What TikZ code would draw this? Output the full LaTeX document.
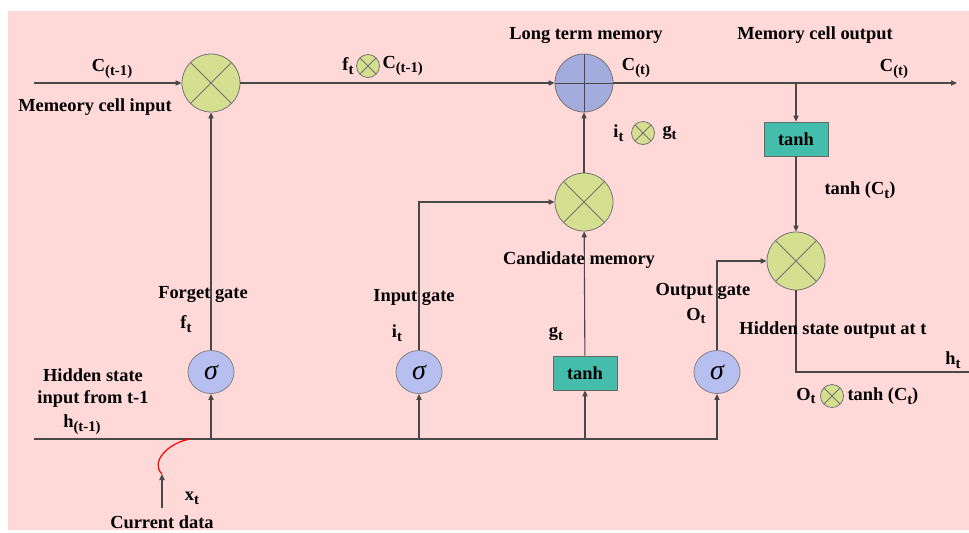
\documentclass[tikz,border=0pt]{standalone}
\usepackage{fontspec}
\setmainfont{Liberation Serif}
\usetikzlibrary{arrows.meta, calc, positioning, shapes.geometric}
\definecolor{bgpink}{RGB}{255,216,216}
\definecolor{mulgreen}{RGB}{212,224,143}
\definecolor{addblue}{RGB}{163,172,220}
\definecolor{sigblue}{RGB}{183,191,240}
\definecolor{tanhteal}{RGB}{69,189,172}
\definecolor{wirecol}{RGB}{72,72,72}
\newcommand{\sbs}[1]{\raisebox{-0.45ex}{\fontsize{7.4}{8}\selectfont #1}}

\begin{document}
\begin{tikzpicture}[font=\fontsize{9.2}{11}\selectfont\bfseries,
    wire/.style={draw=wirecol,line width=0.55pt},
    arr/.style={wire,-{Triangle[length=3pt,width=2.6pt]}},
    mulop/.style={circle,draw=black!55,fill=mulgreen,minimum size=29pt,inner sep=0pt,
        path picture={\draw[black!55] (path picture bounding box.north west)--(path picture bounding box.south east)
            (path picture bounding box.north east)--(path picture bounding box.south west);}},
    mulsmall/.style={mulop,minimum size=11.5pt},
    addop/.style={circle,draw=black!55,fill=addblue,minimum size=29pt,inner sep=0pt,
        path picture={\draw[wirecol] (path picture bounding box.north)--(path picture bounding box.south)
            (path picture bounding box.west)--(path picture bounding box.east);}},
    sigop/.style={ellipse,draw=black!50,fill=sigblue,minimum width=23pt,minimum height=21.5pt,inner sep=0pt,
        font=\fontsize{14}{14}\selectfont\mdseries\itshape},
    tanhbox/.style={rectangle,draw=black!60,fill=tanhteal,minimum width=32pt,minimum height=17pt,inner sep=0pt},
    side/.style={inner sep=0.6pt}]
\begin{scope}[x=0.5pt,y=-0.5pt]
    \useasboundingbox (0,0) rectangle (969,532);
    \fill[bgpink] (8,11) rectangle (969,530);

    %
    \node[mulop] (fmul) at (211,83) {};
    \node[addop] (add) at (584,83) {};
    \node[mulop] (imul) at (584,202) {};
    \node[mulop] (omul) at (796,261) {};
    \node[tanhbox] (tanhc) at (796,139) {tanh};
    \node[tanhbox] (gtanh) at (585,373) {tanh};
    \node[sigop] (fsig) at (211,372) {σ};
    \node[sigop] (isig) at (419,372) {σ};
    \node[sigop] (osig) at (717,372) {σ};

    %
    \coordinate (cin) at (34,83);
    \coordinate (cout) at (957,83);
    \coordinate (cbr) at (796,83);
    \coordinate (hin) at (34,439);
    \coordinate (hout) at (969,372);
    \coordinate (fjn) at (211,439);
    \coordinate (ijn) at (419,439);
    \coordinate (gjn) at (585,439);
    \coordinate (xjn) at (190,439);
    \coordinate (xend) at (162,474);
    \coordinate (xsrc) at (162,508);

    %
    \draw[arr] (cin) -- (fmul);
    \draw[arr] (fmul) -- (add);
    \draw[arr] (add) -- (cout);
    \draw[arr] (cbr) -- (tanhc);
    \draw[arr] (tanhc) -- (omul);
    \draw[wire] (omul) |- (hout);
    \draw[arr] (hin) -| (osig);
    \draw[arr] (fjn) -- (fsig);
    \draw[arr] (ijn) -- (isig);
    \draw[arr] (gjn) -- (gtanh);
    \draw[arr] (fsig) -- (fmul);
    \draw[arr] (isig) |- (imul);
    \draw[arr] (gtanh) -- (imul);
    \draw[arr] (imul) -- (add);
    \draw[arr] (osig) |- (omul);
    \draw[red,line width=0.6pt] (xjn) .. controls (168,443) and (150,462) .. (xend);
    \draw[arr] (xsrc) -- (xend);

    %
    \node (lcin) at (112,69) {C\sbs{(t-1)}};
    \node (lmci) at (95,107) {Memeory cell input};
    \node[mulsmall] (fcsym) at (368,66) {};
    \node[side,left=0.5pt of fcsym] (fcf) {f\sbs{t}};
    \node[side,right=0.5pt of fcsym] (fcc) {C\sbs{(t-1)}};
    \node (lltm) at (586,35) {Long term memory};
    \node (lct) at (636,68) {C\sbs{(t)}};
    \node (lmco) at (815,35) {Memory cell output};
    \node (lcto) at (894,69) {C\sbs{(t)}};
    \node[mulsmall] (igsym) at (643,133) {};
    \node[side,left=3pt of igsym] (igi) {i\sbs{t}};
    \node[side,right=3pt of igsym] (igg) {g\sbs{t}};
    \node (ltct) at (860,190) {tanh (C\sbs{t})};
    \node (lcand) at (579,260) {Candidate memory};
    \node (lfg) at (203,294) {Forget gate};
    \node (lft) at (186,324) {f\sbs{t}};
    \node (lig) at (414,297) {Input gate};
    \node (lit) at (397,333) {i\sbs{t}};
    \node (lgt) at (556,334) {g\sbs{t}};
    \node (log) at (703,291) {Output gate};
    \node (lot) at (696,316) {O\sbs{t}};
    \node (lhso) at (833,330) {Hidden state output at t};
    \node (lht) at (953,360) {h\sbs{t}};
    \node[mulsmall] (ohsym) at (832,396) {};
    \node[side,left=1.5pt of ohsym] (oho) {O\sbs{t}};
    \node[side,right=1pt of ohsym] (oht) {tanh (C\sbs{t})};
    \node[align=center] (lhin) at (93,388) {Hidden state\\input from t-1};
    \node (lhtm) at (82,425) {h\sbs{(t-1)}};
    \node (lxt) at (192,498) {x\sbs{t}};
    \node (lcur) at (162,522) {Current data};
\end{scope}
\end{tikzpicture}
\end{document}
